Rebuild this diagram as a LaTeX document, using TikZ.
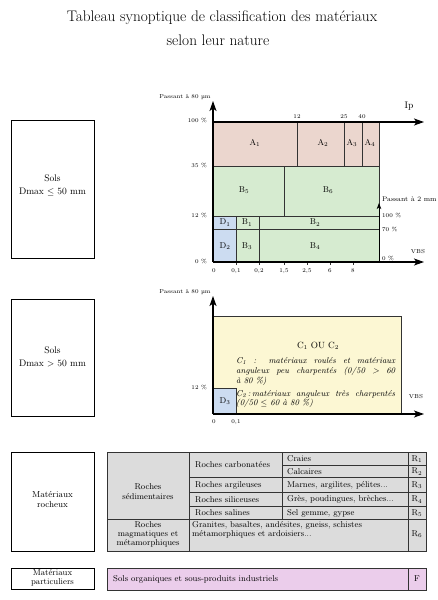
\documentclass[tikz,border=0pt]{standalone}
\usepackage{fontspec}
\usetikzlibrary{arrows.meta}
\definecolor{cA}{HTML}{EBD6CE}
\definecolor{cB}{HTML}{D6EBD0}
\definecolor{cD}{HTML}{CCDCF1}
\definecolor{cC}{HTML}{FCF7D3}
\definecolor{cT}{HTML}{DCDCDC}
\definecolor{cF}{HTML}{EBCDEB}
\definecolor{ln}{HTML}{333333}
\begin{document}
\begin{tikzpicture}[x=1pt,y=-1pt,
  cell/.style={draw=ln, line width=0.7pt},
  axis/.style={line width=1.1pt, -{Stealth[length=10pt,width=7pt,inset=2.5pt]}},
  axsmall/.style={line width=0.9pt, -{Stealth[length=6pt,width=4.5pt,inset=1.5pt]}},
  lbl/.style={font=\fontsize{5.8}{6.5}\selectfont, inner sep=0pt},
  zlbl/.style={font=\fontsize{8.5}{9}\selectfont, inner sep=0pt},
  tbl/.style={font=\fontsize{8.5}{9}\selectfont, inner sep=0pt},
  ctext/.style={inner sep=0pt, anchor=north west, text width=159pt, align=justify,
      font=\fontsize{8.5}{9.8}\selectfont\itshape},
  sidebox/.style={draw=black, line width=0.8pt, inner sep=0pt},
  sidetxt/.style={font=\fontsize{9.5}{13}\selectfont, align=center, inner sep=0pt}]
\useasboundingbox (0,0) rectangle (438,600);

% title
\node[font=\fontsize{15.3}{17}\selectfont, inner sep=0pt] (t1) at (222,18) {Tableau synoptique de classification des matériaux};
\node[font=\fontsize{15.3}{17}\selectfont, inner sep=0pt] (t2) at (218,40) {selon leur nature};

% left boxes
\node[sidebox, minimum width=83pt, minimum height=138pt] (s1) at (52.5,189) {};
\node[sidetxt] (s1t) at (52.5,185.5) {Sols\\Dmax $\leq$ 50 mm};
\node[sidebox, minimum width=83pt, minimum height=117pt] (s2) at (52.5,357.5) {};
\node[sidetxt] (s2t) at (52.5,356.5) {Sols\\Dmax $>$ 50 mm};
\node[sidebox, minimum width=83pt, minimum height=99pt] (s3) at (52.5,501.5) {};
\node[sidetxt, font=\fontsize{8.8}{10}\selectfont] (s3t) at (52.5,499) {Matériaux\\rocheux};
\node[sidebox, minimum width=83pt, minimum height=21pt] (s4) at (52.5,578.5) {};
\node[sidetxt, font=\fontsize{8.5}{9}\selectfont] (s4t) at (52.5,578) {Matériaux\\particuliers};

% ---------- top chart ----------
\fill[cA] (213,122) rectangle (379,166);
\fill[cB] (213,166) rectangle (379,262);
\fill[cD] (213,216) rectangle (236,262);
\draw[cell] (213,166) -- (379,166);
\draw[cell] (213,216) -- (379,216);
\draw[cell] (213,229) -- (379,229);
\draw[cell] (297,122) -- (297,166);
\draw[cell] (344,122) -- (344,166);
\draw[cell] (362,122) -- (362,166);
\draw[cell] (379,122) -- (379,210);
\draw[cell] (284,166) -- (284,216);
\draw[cell] (236,216) -- (236,265);
\draw[cell] (259,216) -- (259,265);
\foreach \x in {284,307,330,353} \draw[cell] (\x,262) -- (\x,265);

\coordinate (o1) at (213,262);
\coordinate (y1) at (213,101);
\coordinate (x1) at (424,262);
\coordinate (ip0) at (213,122);
\coordinate (ip1) at (424,122);
\coordinate (p2a) at (379,262);
\coordinate (p2b) at (379,203);
\draw[axis] (o1) -- (y1);
\draw[axis] (ip0) -- (ip1);
\draw[axis] (o1) -- (x1);
\draw[axsmall] (p2a) -- (p2b);

\node[lbl] (pa1) at (185,97) {Passant à 80 µm};
\node[zlbl, font=\fontsize{9.5}{10}\selectfont] (ip) at (409,106) {Ip};
\node[lbl] (n12) at (297,117) {12};
\node[lbl] (n25) at (344,117) {25};
\node[lbl] (n40) at (362,117) {40};
\node[lbl, anchor=east] (l100) at (207,120) {100 \%};
\node[lbl, anchor=east] (l35) at (207,165) {35 \%};
\node[lbl, anchor=east] (l12) at (207,215) {12 \%};
\node[lbl, anchor=east] (l0) at (207,261) {0 \%};
\node[lbl, anchor=west, font=\fontsize{6.8}{7}\selectfont] (p2) at (382,199) {Passant à 2 mm};
\node[lbl, anchor=west] (r100) at (382,215) {100 \%};
\node[lbl, anchor=west] (r70) at (382,229) {70 \%};
\node[lbl, anchor=west] (r0) at (382,258) {0 \%};
\node[lbl] (vbs1) at (418,252) {VBS};
\node[lbl] (t0) at (214,271) {0};
\node[lbl] (t01) at (236,271) {0,1};
\node[lbl] (t02) at (259,271) {0,2};
\node[lbl] (t15) at (284,271) {1,5};
\node[lbl] (t25) at (307,271) {2,5};
\node[lbl] (t6) at (330,271) {6};
\node[lbl] (t8) at (353,271) {8};

\node[zlbl] (A1) at (255,143) {A\textsubscript{1}};
\node[zlbl] (A2) at (323,143) {A\textsubscript{2}};
\node[zlbl] (A3) at (352,143) {A\textsubscript{3}};
\node[zlbl] (A4) at (370,143) {A\textsubscript{4}};
\node[zlbl] (B5) at (244,190) {B\textsubscript{5}};
\node[zlbl] (B6) at (328,190) {B\textsubscript{6}};
\node[zlbl] (D1) at (225,222.5) {D\textsubscript{1}};
\node[zlbl] (B1) at (247,222.5) {B\textsubscript{1}};
\node[zlbl] (B2) at (315,222.5) {B\textsubscript{2}};
\node[zlbl] (D2) at (225,246) {D\textsubscript{2}};
\node[zlbl] (B3) at (247,246) {B\textsubscript{3}};
\node[zlbl] (B4) at (315,246) {B\textsubscript{4}};

% ---------- middle chart ----------
\fill[cC] (213,316) rectangle (401,414);
\draw[cell] (213,316) -- (401,316) -- (401,414);
\fill[cD] (213,388) rectangle (236,414);
\draw[cell] (213,388) -- (236,388) -- (236,414);
\coordinate (o2) at (213,414);
\coordinate (y2) at (213,296);
\coordinate (x2) at (424,414);
\draw[axis] (o2) -- (y2);
\draw[axis] (o2) -- (x2);
\node[lbl] (pa2) at (185,292) {Passant à 80 µm};
\node[lbl, anchor=east] (m12) at (207,387) {12 \%};
\node[lbl] (m0) at (214,422) {0};
\node[lbl] (m01) at (236,422) {0,1};
\node[lbl] (vbs2) at (416,397) {VBS};
\node[zlbl] (D3) at (225,401) {D\textsubscript{3}};
\node[zlbl, font=\fontsize{9}{10}\selectfont] (C12) at (318,346) {C\textsubscript{1} OU C\textsubscript{2}};
\node[ctext] (c1) at (236,357.5)
  {C\textsubscript{1} : matériaux roulés et matériaux\linebreak anguleux peu charpentés (0/50 > 60\linebreak à 80 \%)};
\node[ctext] (c2) at (236,390)
  {C\textsubscript{2}\,:\,matériaux anguleux très charpentés\linebreak (0/50 $\leq$ 60 à 80 \%)};

% ---------- table ----------
\fill[cT] (107,452) rectangle (426,551);
\draw[cell] (107,452) rectangle (426,551);
\draw[cell] (189,452) -- (189,551);
\draw[cell] (282,452) -- (282,519);
\draw[cell] (408,452) -- (408,551);
\draw[cell] (282,465) -- (426,465);
\draw[cell] (189,477) -- (426,477);
\draw[cell] (189,492) -- (426,492);
\draw[cell] (189,506) -- (426,506);
\draw[cell] (107,519) -- (426,519);

\node[tbl, align=center, font=\fontsize{8.5}{10}\selectfont] (rs) at (148,492) {Roches\\sédimentaires};
\node[tbl, align=center, font=\fontsize{8.5}{9}\selectfont] (rm) at (148,534.5) {Roches\\magmatiques et\\métamorphiques};
\node[tbl, anchor=west] (rc) at (195,465) {Roches carbonatées};
\node[tbl, anchor=west] (ra) at (195,485) {Roches argileuses};
\node[tbl, anchor=west] (rsi) at (195,499.5) {Roches siliceuses};
\node[tbl, anchor=west] (rsa) at (195,513) {Roches salines};
\node[tbl, anchor=west] (cr) at (287,459) {Craies};
\node[tbl, anchor=west] (ca) at (287,471.5) {Calcaires};
\node[tbl, anchor=west] (ma) at (287,485) {Marnes, argilites, pélites...};
\node[tbl, anchor=west] (gr) at (287,499.5) {Grès, poudingues, brèches...};
\node[tbl, anchor=west] (se) at (287,513) {Sel gemme, gypse};
\node[tbl, anchor=west, align=left] (gra) at (192,530) {Granites, basaltes, andésites, gneiss, schistes\\métamorphiques et ardoisiers...};
\node[tbl] (R1) at (417,459) {R\textsubscript{1}};
\node[tbl] (R2) at (417,471.5) {R\textsubscript{2}};
\node[tbl] (R3) at (417,485) {R\textsubscript{3}};
\node[tbl] (R4) at (417,499.5) {R\textsubscript{4}};
\node[tbl] (R5) at (417,513) {R\textsubscript{5}};
\node[tbl] (R6) at (417,534) {R\textsubscript{6}};

% F row
\fill[cF] (107,568) rectangle (426,590);
\draw[cell] (107,568) rectangle (426,590);
\draw[cell] (408,568) -- (408,590);
\node[tbl, anchor=west] (so) at (113,579) {Sols organiques et sous-produits industriels};
\node[tbl] (F) at (417,579) {F};
\end{tikzpicture}
\end{document}
